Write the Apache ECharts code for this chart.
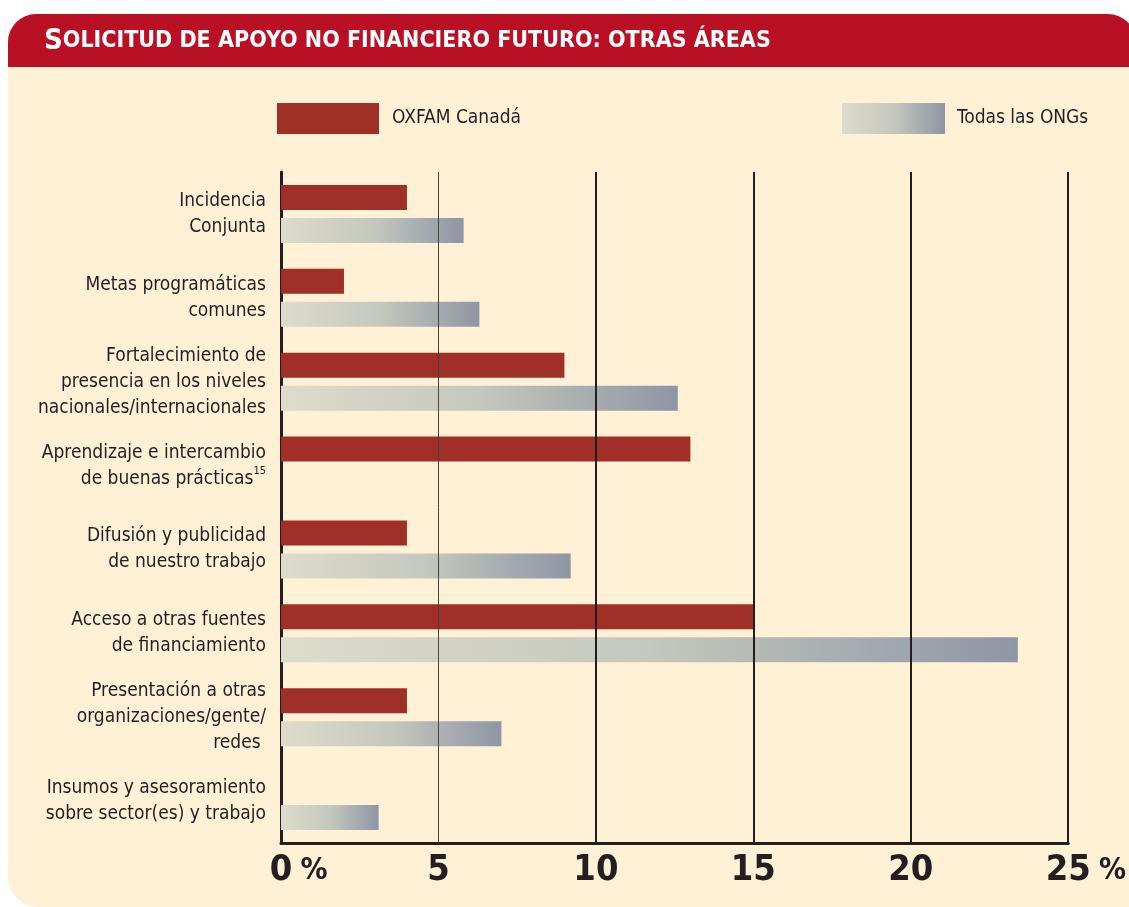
<!DOCTYPE html>
<html>
<head>
<meta charset="utf-8">
<script src="https://cdn.jsdelivr.net/npm/echarts@6/dist/echarts.min.js"></script>
<style>
  html, body { margin: 0; padding: 0; background: #ffffff; }
  #main { width: 1129px; height: 907px; }
</style>
</head>
<body>
<div id="main"></div>
<script>
var categories = [
  'Incidencia\nConjunta',
  'Metas programáticas\ncomunes',
  'Fortalecimiento de\npresencia en los niveles\nnacionales/internacionales',
  'Aprendizaje e intercambio\nde buenas prácticas',
  'Difusión y publicidad\nde nuestro trabajo',
  'Acceso a otras fuentes\nde financiamiento',
  'Presentación a otras\norganizaciones/gente/\nredes ',
  'Insumos y asesoramiento\nsobre sector(es) y trabajo'
];
var footnotes = { 3: '15' };
var oxfam = [4.0, 2.0, 9.0, 13.0, 4.0, 15.0, 4.0, null];
var todas = [5.8, 6.3, 12.6, null, 9.2, 23.4, 7.0, 3.1];
var ticks = [0, 5, 10, 15, 20, 25];
var gridWidths = [1, 2, 2, 2, 2];

var FONT = '"Liberation Sans Narrow", "DejaVu Sans Condensed", sans-serif';
var INK = '#231f20';
var RED = '#a02f27';
var grey = {
  type: 'linear', x: 0, y: 0, x2: 1, y2: 0,
  colorStops: [
    { offset: 0, color: '#dedccb' },
    { offset: 0.5, color: '#c4c8bd' },
    { offset: 1, color: '#8e96a4' }
  ]
};

var chart = echarts.init(document.getElementById('main'));
chart.setOption({
  backgroundColor: 'transparent',
  animation: false,
  graphic: [
    { type: 'rect', z: -10, shape: { x: 8, y: 14, width: 1128, height: 893, r: [28, 28, 0, 30] }, style: { fill: '#fef1d6' } },
    { type: 'rect', z: -9, shape: { x: 8, y: 14, width: 1128, height: 53, r: [28, 28, 0, 0] }, style: { fill: '#b91026' } },
    {
      type: 'text', z: -8, left: 44, top: 27,
      style: {
        text: '{a|S}{b|OLICITUD DE APOYO NO FINANCIERO FUTURO: OTRAS ÁREAS}',
        rich: {
          a: { fontFamily: FONT, fontWeight: 'bold', fontSize: 29, fill: '#ffffff' },
          b: { fontFamily: FONT, fontWeight: 'bold', fontSize: 23, fill: '#ffffff' }
        }
      }
    }
  ],
  legend: [
    {
      data: ['OXFAM Canadá'], left: 277, top: 103, icon: 'rect', padding: 0,
      itemWidth: 102, itemHeight: 31, itemGap: 12,
      textStyle: { fontFamily: FONT, fontSize: 19, color: INK, padding: [0, 0, 0, 8] }, selectedMode: false
    },
    {
      data: ['Todas las ONGs'], left: 842, top: 103, icon: 'rect', padding: 0,
      itemWidth: 103, itemHeight: 31, itemGap: 12,
      textStyle: { fontFamily: FONT, fontSize: 19, color: INK, padding: [0, 0, 0, 7] }, selectedMode: false
    }
  ],
  grid: { left: 281, right: 60, top: 172, bottom: 64, containLabel: false },
  xAxis: {
    type: 'value', min: 0, max: 25, interval: 5,
    axisLine: { show: true, lineStyle: { color: INK, width: 3 } },
    axisTick: { show: false },
    splitLine: { show: false },
    axisLabel: {
      margin: 10,
      formatter: function (v) {
        if (v === 0 || v === 25) return '{pad|}{n|' + v + '}{p| %}';
        return '{n|' + v + '}';
      },
      rich: {
        n: { fontFamily: FONT, fontWeight: 'bold', fontSize: 36, color: INK },
        p: { fontFamily: FONT, fontWeight: 'bold', fontSize: 30, color: INK, width: 34, align: 'left' },
        pad: { width: 34 }
      }
    }
  },
  yAxis: {
    type: 'category', inverse: true, data: categories,
    axisLine: { show: true, lineStyle: { color: INK, width: 3 } },
    axisTick: { show: false },
    axisLabel: {
      margin: 15,
      align: 'right',
      formatter: function (v, i) {
        var lines = v.split('\n').map(function (l) { return '{c|' + l + '}'; });
        if (footnotes[i]) lines[lines.length - 1] += '{s|' + footnotes[i] + '}';
        return lines.join('\n');
      },
      rich: {
        c: { fontFamily: FONT, fontSize: 19, color: INK, lineHeight: 26 },
        s: { fontFamily: FONT, fontSize: 11, color: INK, verticalAlign: 'top', lineHeight: 20 }
      }
    }
  },
  series: [
    {
      name: 'OXFAM Canadá', type: 'bar', data: oxfam,
      barWidth: 25, barGap: '32%',
      itemStyle: { color: RED },
      markLine: {
        silent: true, symbol: 'none', z: 5,
        label: { show: false },
        data: ticks.slice(1).map(function (t, i) {
          return { xAxis: t, lineStyle: { type: 'solid', color: i === 0 ? '#4a413b' : INK, width: gridWidths[i] } };
        })
      }
    },
    {
      name: 'Todas las ONGs', type: 'bar', data: todas,
      barWidth: 25,
      itemStyle: { color: grey }
    }
  ]
});
</script>
</body>
</html>
